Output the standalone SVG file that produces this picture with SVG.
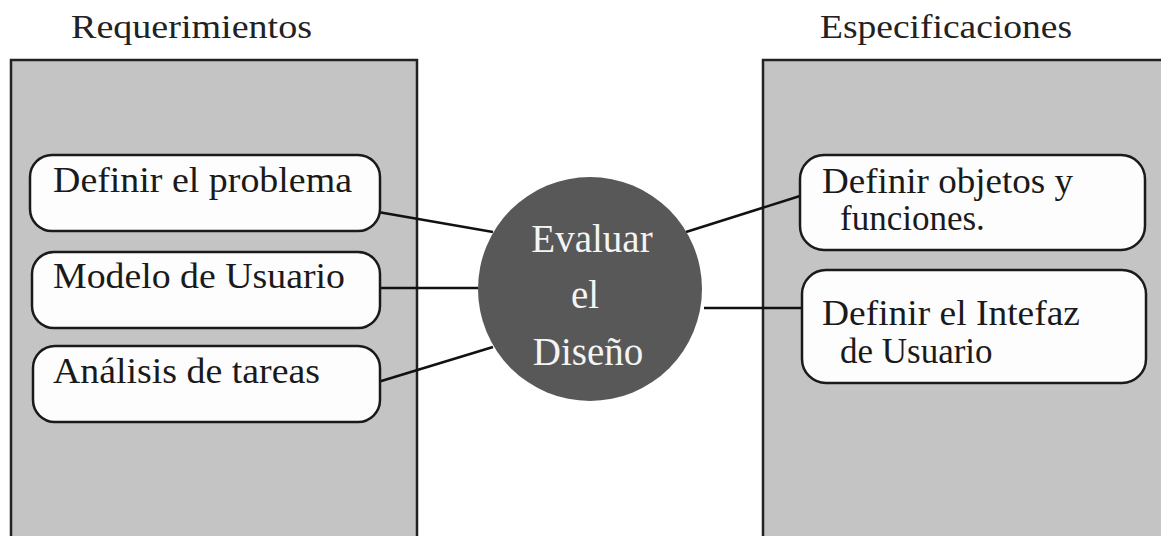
<svg xmlns="http://www.w3.org/2000/svg" width="1161" height="536" viewBox="0 0 1161 536">
<defs>
<style>
.title{font-family:"Liberation Serif","Times New Roman",serif;font-size:33px;fill:#222}
.lbl{font-family:"Liberation Serif","Times New Roman",serif;font-size:35px;fill:#1a1a1a}
.ctr{font-family:"Liberation Serif","Times New Roman",serif;font-size:39px;fill:#f4f4f4;text-anchor:middle}
.panel{fill:#c4c4c4;stroke:#222;stroke-width:2.5}
.box{fill:#fdfdfd;stroke:#1a1a1a;stroke-width:2.5}
.conn{stroke:#111;stroke-width:2.5;fill:none}
</style>
</defs>
<rect width="1161" height="536" fill="#ffffff"/>
<g id="requerimientos">
<text class="title" x="71" y="38" textLength="241" lengthAdjust="spacingAndGlyphs">Requerimientos</text>
<rect class="panel" x="11" y="60" width="406" height="490"/>
</g>
<g id="especificaciones">
<text class="title" x="820" y="38" textLength="252" lengthAdjust="spacingAndGlyphs">Especificaciones</text>
<rect class="panel" x="763" y="60" width="410" height="490"/>
</g>
<g id="connectors">
<line class="conn" x1="378" y1="212" x2="493" y2="232"/>
<line class="conn" x1="378" y1="288" x2="478" y2="288"/>
<line class="conn" x1="378" y1="382" x2="493" y2="347"/>
<line class="conn" x1="686" y1="232" x2="800" y2="196"/>
<line class="conn" x1="704" y1="308" x2="802" y2="308"/>
</g>
<g id="definir-problema">
<rect class="box" x="30" y="155" width="350" height="76" rx="22"/>
<text class="lbl" x="53" y="192" textLength="299" lengthAdjust="spacingAndGlyphs">Definir el problema</text>
</g>
<g id="modelo-usuario">
<rect class="box" x="32" y="252" width="348" height="76" rx="22"/>
<text class="lbl" x="53" y="288" textLength="292" lengthAdjust="spacingAndGlyphs">Modelo de Usuario</text>
</g>
<g id="analisis-tareas">
<rect class="box" x="33" y="346" width="347" height="76" rx="22"/>
<text class="lbl" x="53" y="383" textLength="267" lengthAdjust="spacingAndGlyphs">Análisis de tareas</text>
</g>
<g id="evaluar-diseno">
<circle cx="590" cy="289" r="112" fill="#585858"/>
<text class="ctr" x="592" y="252">Evaluar</text>
<text class="ctr" x="585" y="308">el</text>
<text class="ctr" x="588" y="365">Diseño</text>
</g>
<g id="definir-objetos">
<rect class="box" x="800" y="155" width="345" height="95" rx="24"/>
<text class="lbl" x="822" y="193" textLength="251" lengthAdjust="spacingAndGlyphs">Definir objetos y</text>
<text class="lbl" x="840" y="230">funciones.</text>
</g>
<g id="definir-interfaz">
<rect class="box" x="802" y="270" width="344" height="113" rx="24"/>
<text class="lbl" x="822" y="325" textLength="258" lengthAdjust="spacingAndGlyphs">Definir el Intefaz</text>
<text class="lbl" x="840" y="363">de Usuario</text>
</g>
</svg>
